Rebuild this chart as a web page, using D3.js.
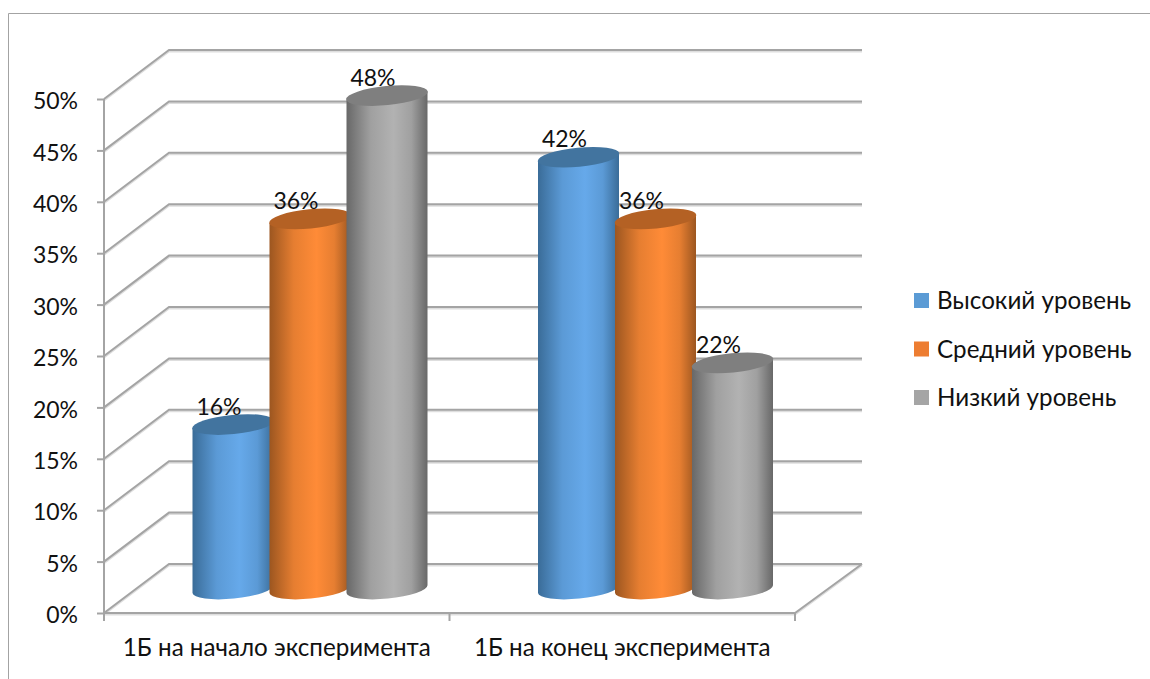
<!DOCTYPE html>
<html><head><meta charset="utf-8">
<script src="https://cdn.jsdelivr.net/npm/d3@7"></script>
<style>html,body{margin:0;padding:0;background:#fff}svg{display:block}text{font-family:Lato,"Noto Sans",sans-serif;fill:#111}</style>
</head><body><div id="c"></div>
<script>
const categories = ["1Б на начало эксперимента", "1Б на конец эксперимента"];
const seriesNames = ["Высокий уровень", "Средний уровень", "Низкий уровень"];
const high = [16, 42];
const medium = [36, 36];
const low = [48, 22];
const yTicks = [0, 5, 10, 15, 20, 25, 30, 35, 40, 45, 50];
const legendColors = ["#5b9bd5", "#ed7d31", "#a5a5a5"];
const bodyDark = ["#3a6c98", "#9c5620", "#686868"];
const bodyLight = ["#66a9ea", "#ff8b37", "#b2b2b2"];
const topColors = ["#42749f", "#b46124", "#7f7f7f"];

const W = 1150, H = 679;
const numSize = 23, textSize = 24.2;
const depthX = 65, depthY = 49;
const svg = d3.select("#c").append("svg").attr("width", W).attr("height", H);
const y = d3.scaleLinear().domain([0, 50]).range([613, 99]);
const x0 = d3.scaleBand().domain(categories).range([104, 795]);
const x1 = d3.scaleBand().domain(seriesNames).range([0, 231]);
const series = [high, medium, low];

const defs = svg.append("defs");
seriesNames.forEach((s, i) => {
  const g = defs.append("linearGradient").attr("id", "g" + i).attr("x1", 0).attr("x2", 1).attr("y1", 0).attr("y2", 0);
  g.append("stop").attr("offset", 0).attr("stop-color", bodyDark[i]);
  g.append("stop").attr("offset", .3).attr("stop-color", d3.interpolateRgb(bodyDark[i], bodyLight[i])(.75));
  g.append("stop").attr("offset", .58).attr("stop-color", bodyLight[i]);
  g.append("stop").attr("offset", .8).attr("stop-color", d3.interpolateRgb(bodyDark[i], bodyLight[i])(.75));
  g.append("stop").attr("offset", 1).attr("stop-color", bodyDark[i]);
});

// outer frame
svg.append("path").attr("d", "M8.5,679V13.5H1150").attr("fill", "none").attr("stroke", "#a3a3a3").attr("stroke-width", 1);

// walls and floor
const gridColor = "#a4a4a4";
const walls = svg.append("g").attr("fill", "none");
const floorBack = y(0) - depthY;
function gridPath(v) {
  return `M${x0.range()[0]},${y(v)}L${x0.range()[0] + depthX},${y(v) - depthY}H${x0.range()[1] + depthX + 2}`;
}
[["#dedede", 2, 1.5], [gridColor, 2, 0]].forEach(([c, w, off]) => {
  walls.selectAll(null).data(yTicks).join("path")
    .attr("d", gridPath).attr("transform", `translate(0,${off})`)
    .attr("stroke", c).attr("stroke-width", w);
  walls.append("path")
    .attr("d", `M${x0.range()[0]},${y(0)}H${x0.range()[1]}L${x0.range()[1] + depthX + 2},${floorBack}`)
    .attr("transform", `translate(0,${off})`).attr("stroke", c).attr("stroke-width", w);
});

// axes
const yAxis = d3.axisLeft(y).tickValues(yTicks).tickFormat(d => d + "%").tickSize(7).tickPadding(19);
const ya = svg.append("g").attr("transform", "translate(104,0)").call(yAxis);
ya.selectAll("path").attr("stroke", gridColor).attr("stroke-width", 2).attr("d", `M0,${y(50)}V${y(0)}`);
ya.selectAll("line").attr("stroke", gridColor).attr("stroke-width", 2);
ya.selectAll("text").attr("font-size", numSize).attr("dy", "0.42em");
ya.attr("font-family", null);

const xAxis = d3.axisBottom(x0).tickSize(0).tickPadding(26);
const xa = svg.append("g").attr("transform", `translate(0,${y(0)})`).call(xAxis);
xa.select("path").remove();
xa.selectAll("text").attr("font-size", textSize).attr("dx", 0);
xa.attr("font-family", null);
svg.append("g").selectAll("line").data([...categories, "end"]).join("line")
  .attr("x1", d => d === "end" ? x0.range()[1] : x0(d)).attr("x2", d => d === "end" ? x0.range()[1] : x0(d))
  .attr("y1", y(0)).attr("y2", y(0) + 8).attr("stroke", gridColor).attr("stroke-width", 2);

// cylinders
const rx = 40.5, ry = 9.6, tilt = -5.6, baseLift = 24, barOffset = 90.5;
const rad = tilt * Math.PI / 180, ex = rx, ey = rx * Math.tan(-rad);
const cx = (c, s) => x0(c) + barOffset + x1(s) + x1.bandwidth() / 2;
const labels = svg.append("g"), bars = svg.append("g");
categories.forEach((c, ci) => {
  seriesNames.forEach((s, si) => {
    const v = series[si][ci], X = cx(c, s), Yt = y(v) - baseLift, Yb = y(0) - baseLift;
    labels.append("text").attr("x", X - 14).attr("y", Yt - 10).attr("text-anchor", "middle")
      .attr("font-size", numSize).text(v + "%");
    const g = bars.append("g");
    const arcA = `A${rx},${ry} ${tilt} 0 0`;
    g.append("path")
      .attr("d", `M${X - ex},${Yt + ey}L${X - ex},${Yb + ey}${arcA} ${X + ex},${Yb - ey}L${X + ex},${Yt - ey}Z`)
      .attr("fill", `url(#g${si})`);
    g.append("ellipse").attr("cx", X).attr("cy", Yt).attr("rx", rx + .5).attr("ry", ry)
      .attr("transform", `rotate(${tilt} ${X} ${Yt})`).attr("fill", topColors[si]);
  });
});

// legend
const ly = d3.scalePoint().domain(seriesNames).range([300.5, 397.5]);
const leg = svg.append("g").selectAll("g").data(seriesNames).join("g")
  .attr("transform", d => `translate(914,${ly(d)})`);
leg.append("rect").attr("x", 0).attr("y", -7.5).attr("width", 15).attr("height", 15)
  .attr("fill", (d, i) => legendColors[i]);
leg.append("text").attr("x", 23).attr("dy", "0.36em").attr("font-size", textSize).text(d => d);
</script></body></html>
